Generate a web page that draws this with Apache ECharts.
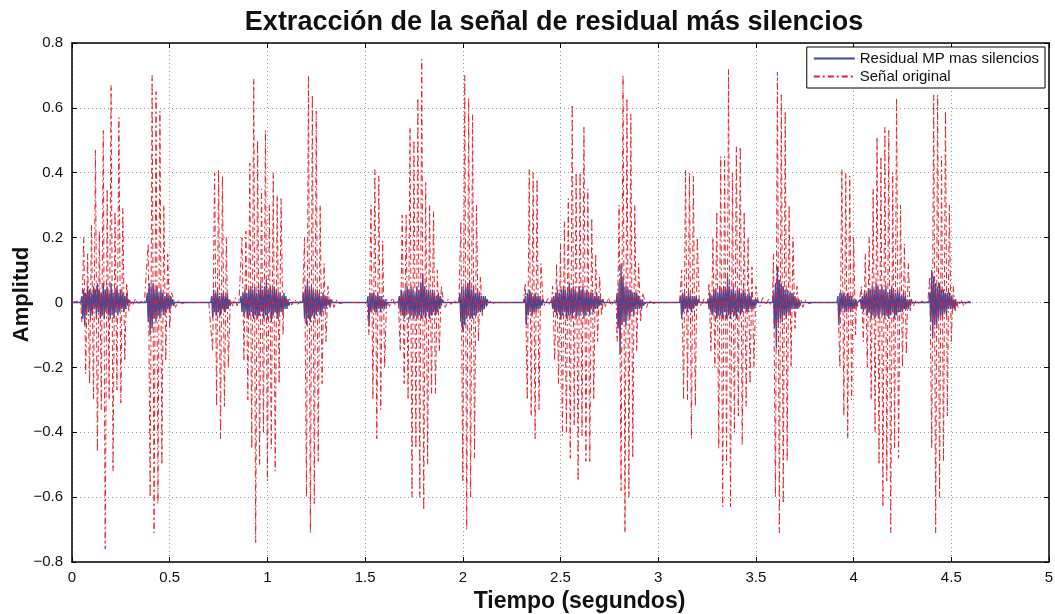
<!DOCTYPE html>
<html>
<head>
<meta charset="utf-8">
<script src="https://cdn.jsdelivr.net/npm/echarts@6/dist/echarts.min.js"></script>
<style>
  html, body { margin: 0; padding: 0; background: #fff; }
  #chart { width: 1055px; height: 614px; }
</style>
</head>
<body>
<div id="chart"></div>
<script>
// spacing of the hand-read values (seconds)
const origStep = 0.01;
const resStep = 0.005;

// Señal original: start time of each voiced burst, and the peaks
const origStarts = [0.05, 0.39, 0.72, 0.87, 1.19, 1.52, 1.68, 1.99, 2.32,
  2.46, 2.79, 3.12, 3.26, 3.59, 3.93, 4.04, 4.39];
const origBursts = [
  [-0.06,0.20,-0.22,0.15,-0.25,0.24,-0.30,0.47,-0.46,0.22,-0.33,0.53,-0.76,0.35,-0.30,0.67,-0.52,0.28,-0.27,0.57,-0.31,0.29,-0.18,0.06,-0.03],
  [0.18,-0.60,0.70,-0.71,0.65,-0.62,0.59,-0.50,0.30,-0.18,0.15,-0.08,0.03],
  [-0.15,0.40,-0.32,0.41,-0.42,0.39,-0.32,0.20,-0.20],
  [0.20,-0.18,0.22,-0.30,0.43,-0.45,0.69,-0.74,0.50,-0.50,0.35,-0.40,0.53,-0.55,0.30,-0.45,0.40,-0.52,0.33,-0.25,0.32,-0.10],
  [0.20,-0.60,0.70,-0.71,0.64,-0.62,0.59,-0.49,0.30,-0.25,0.12,-0.12,0.05,-0.02],
  [-0.10,0.30,-0.30,0.41,-0.42,0.39,-0.33,0.19,-0.20],
  [-0.15,0.27,-0.25,0.27,-0.30,0.54,-0.60,0.50,-0.45,0.63,-0.60,0.75,-0.64,0.37,-0.50,0.30,-0.28,0.28,-0.28,0.10,-0.15,0.05],
  [0.25,-0.55,0.70,-0.70,0.63,-0.60,0.58,-0.48,0.30,-0.12,0.08,-0.04],
  [0.06,-0.30,0.41,-0.35,0.40,-0.42,0.38,-0.33,0.12],
  [0.05,-0.18,0.12,-0.25,0.18,-0.41,0.25,-0.40,0.32,-0.48,0.61,-0.38,0.40,-0.55,0.40,-0.41,0.54,-0.49,0.35,-0.49,0.26,-0.30,0.15,-0.12,0.08,-0.04],
  [-0.12,0.30,-0.58,0.70,-0.71,0.63,-0.60,0.58,-0.48,0.30,-0.15,0.12,-0.06,0.03],
  [0.10,-0.30,0.41,-0.30,0.40,-0.42,0.39,-0.32,0.20],
  [0.06,-0.15,0.20,-0.20,0.28,-0.45,0.45,-0.63,0.45,-0.50,0.72,-0.63,0.40,-0.40,0.48,-0.35,0.48,-0.44,0.28,-0.32,0.20,-0.25,0.11,-0.20,0.05],
  [0.15,-0.60,0.71,-0.71,0.64,-0.62,0.59,-0.49,0.30,-0.20,0.20,-0.08,0.05,-0.02],
  [-0.20,0.41,-0.35,0.40,-0.42,0.39,-0.30,0.20,-0.10],
  [0.05,-0.12,0.15,-0.20,0.20,-0.30,0.35,-0.40,0.51,-0.50,0.45,-0.63,0.54,-0.55,0.53,-0.71,0.40,-0.45,0.63,-0.48,0.30,-0.20,0.18,-0.16,0.12,-0.03],
  [0.08,-0.45,0.64,-0.71,0.64,-0.60,0.45,-0.49,0.59,-0.35,0.30,-0.12,0.05,-0.03]
];
// low-level wiggles in the pauses, as [t, v]
const origQuiet = [[0,0],[0.03,0.004],[0.045,-0.004],
  [0.30,0.008],[0.31,-0.01],[0.325,0.012],[0.34,-0.006],[0.355,0.005],[0.37,-0.004],[0.38,0.002],
  [0.52,0.01],[0.53,-0.015],[0.545,0.006],[0.56,-0.004],[0.58,0],[0.70,0],[0.71,0.003],
  [0.81,0.01],[0.82,-0.012],[0.835,0.015],[0.845,-0.01],[0.855,0.008],
  [1.085,0.012],[1.095,-0.01],[1.11,0.015],[1.125,-0.008],[1.14,0.01],[1.155,-0.006],[1.17,0.005],[1.18,-0.003],
  [1.33,0.01],[1.34,-0.015],[1.355,0.008],[1.37,-0.004],[1.39,0],[1.51,0],
  [1.61,0.01],[1.625,-0.012],[1.64,0.015],[1.655,-0.008],[1.67,0.006],
  [1.90,0.01],[1.91,-0.015],[1.925,0.01],[1.94,-0.006],[1.955,0.008],[1.97,-0.004],[1.98,0.003],
  [2.11,0.01],[2.12,-0.015],[2.135,0.008],[2.15,-0.004],[2.17,0],[2.31,0],
  [2.41,0.008],[2.42,-0.01],[2.435,0.012],[2.445,-0.008],[2.455,0.005],
  [2.72,0.01],[2.73,-0.012],[2.745,0.015],[2.76,-0.01],[2.775,0.008],[2.785,-0.004],
  [2.93,0.01],[2.94,-0.015],[2.955,0.008],[2.97,-0.004],[2.99,0],[3.11,0],
  [3.21,0.008],[3.22,-0.012],[3.235,0.012],[3.245,-0.008],[3.255,0.004],
  [3.51,0.01],[3.52,-0.012],[3.535,0.015],[3.55,-0.008],[3.565,0.01],[3.575,-0.006],[3.585,0.003],
  [3.73,0.01],[3.74,-0.015],[3.755,0.008],[3.77,-0.004],[3.79,0],[3.92,0],
  [4.015,0.01],[4.02,-0.012],[4.03,0.006],
  [4.295,0.01],[4.305,-0.012],[4.32,0.008],[4.335,-0.006],[4.35,0.005],[4.365,-0.004],[4.38,0.003],
  [4.525,0.01],[4.535,-0.015],[4.55,0.008],[4.565,-0.012],[4.58,0.006],[4.60,0]];

// Residual MP mas silencios (exactly zero in the silences)
const resStarts = [0.050, 0.385, 0.715, 0.865, 1.185, 1.515, 1.675, 1.985, 2.320,
  2.455, 2.790, 3.115, 3.255, 3.590, 3.920, 4.035, 4.390];
const resBursts = [
  [0.02,-0.05,0.04,-0.07,0.03,-0.04,0.05,-0.03,0.04,-0.05,0.03,-0.04,0.05,-0.02,0.04,-0.05,0.06,-0.03,0.04,-0.05,0.03,-0.04,0.06,-0.05,0.04,-0.03,0.05,-0.04,0.03,-0.05,0.06,-0.04,0.03,-0.05,0.04,-0.03,0.05,-0.04,0.03,-0.03,0.04,-0.02,0.03,-0.03,0.02,-0.02,0.03,-0.01,0.01],
  [0.03,-0.06,0.06,-0.10,0.05,-0.08,0.06,-0.05,0.04,-0.06,0.05,-0.04,0.03,-0.05,0.04,-0.03,0.03,-0.04,0.02,-0.03,0.03,-0.02,0.02,-0.03,0.02,-0.01,0.01,-0.01],
  [0.02,-0.05,0.04,-0.03,0.03,-0.04,0.04,-0.03,0.02,-0.04,0.03,-0.02,0.03,-0.03,0.02,-0.02,0.03,-0.02,0.01,-0.01],
  [0.02,-0.03,0.03,-0.04,0.04,-0.03,0.03,-0.05,0.04,-0.04,0.05,-0.03,0.04,-0.05,0.05,-0.04,0.03,-0.05,0.04,-0.04,0.06,-0.03,0.04,-0.05,0.05,-0.04,0.07,-0.05,0.04,-0.03,0.05,-0.06,0.04,-0.04,0.05,-0.03,0.04,-0.05,0.03,-0.04,0.03,-0.03,0.02,-0.03,0.03,-0.02,0.02,-0.02,0.01,-0.01],
  [0.03,-0.05,0.05,-0.07,0.07,-0.05,0.04,-0.06,0.05,-0.04,0.04,-0.05,0.03,-0.04,0.04,-0.03,0.03,-0.04,0.02,-0.03,0.03,-0.02,0.02,-0.02,0.02,-0.01,0.01,-0.01,0.01,0],
  [0.02,-0.07,0.03,-0.03,0.03,-0.02,0.03,-0.03,0.02,-0.03,0.03,-0.02,0.02,-0.03,0.02,-0.02,0.01,-0.02,0.01,-0.01],
  [0.02,-0.03,0.04,-0.04,0.03,-0.05,0.04,-0.04,0.05,-0.03,0.04,-0.05,0.05,-0.04,0.04,-0.05,0.03,-0.04,0.05,-0.05,0.04,-0.04,0.06,-0.05,0.09,-0.04,0.05,-0.05,0.04,-0.03,0.04,-0.05,0.03,-0.04,0.04,-0.03,0.03,-0.04,0.02,-0.03,0.03,-0.02,0.02,-0.01,0.01],
  [0.03,-0.06,0.05,-0.09,0.04,-0.07,0.05,-0.05,0.06,-0.04,0.07,-0.05,0.04,-0.05,0.05,-0.04,0.03,-0.04,0.04,-0.03,0.03,-0.03,0.02,-0.03,0.02,-0.02,0.02,-0.01,0.01,0],
  [0.02,-0.07,0.03,-0.04,0.04,-0.03,0.03,-0.04,0.02,-0.03,0.03,-0.03,0.02,-0.02,0.02,-0.02,0.01,-0.01,0.01],
  [0.01,-0.02,0.02,-0.03,0.03,-0.04,0.04,-0.03,0.03,-0.05,0.04,-0.04,0.05,-0.03,0.04,-0.05,0.03,-0.04,0.06,-0.04,0.04,-0.05,0.05,-0.03,0.04,-0.05,0.03,-0.04,0.05,-0.04,0.04,-0.03,0.05,-0.05,0.03,-0.04,0.04,-0.03,0.03,-0.04,0.03,-0.02,0.03,-0.03,0.02,-0.02,0.03,-0.02,0.02,-0.01,0.01,-0.01,0.01,0],
  [0.03,-0.08,0.06,-0.16,0.12,-0.07,0.08,-0.06,0.05,-0.07,0.05,-0.04,0.04,-0.05,0.04,-0.03,0.03,-0.04,0.03,-0.02,0.03,-0.02,0.02,-0.02,0.01,-0.02,0.01,-0.01,0],
  [0.02,-0.05,0.03,-0.03,0.03,-0.02,0.02,-0.03,0.03,-0.02,0.02,-0.03,0.02,-0.02,0.02,-0.01,0.02,-0.01,0.01,0],
  [0.01,-0.02,0.03,-0.03,0.02,-0.04,0.04,-0.03,0.04,-0.05,0.03,-0.04,0.05,-0.04,0.04,-0.05,0.05,-0.03,0.04,-0.05,0.08,-0.04,0.05,-0.05,0.04,-0.03,0.05,-0.04,0.03,-0.05,0.04,-0.03,0.04,-0.04,0.03,-0.03,0.04,-0.02,0.03,-0.03,0.02,-0.03,0.03,-0.02,0.02,-0.02,0.01,-0.02,0.01,-0.01,0.01,0],
  [0.03,-0.08,0.06,-0.14,0.11,-0.06,0.07,-0.05,0.06,-0.06,0.05,-0.04,0.04,-0.05,0.04,-0.03,0.03,-0.04,0.03,-0.02,0.03,-0.02,0.02,-0.02,0.01,-0.02,0.01,-0.01,0],
  [0.02,-0.07,0.03,-0.03,0.03,-0.02,0.03,-0.03,0.02,-0.03,0.03,-0.02,0.02,-0.03,0.02,-0.02,0.01,-0.02,0.01,-0.01,0],
  [0.01,-0.02,0.02,-0.03,0.03,-0.02,0.03,-0.04,0.04,-0.03,0.04,-0.05,0.05,-0.04,0.04,-0.05,0.06,-0.04,0.05,-0.05,0.04,-0.03,0.05,-0.04,0.04,-0.05,0.05,-0.04,0.03,-0.05,0.04,-0.04,0.05,-0.03,0.04,-0.05,0.03,-0.04,0.04,-0.03,0.03,-0.03,0.02,-0.03,0.03,-0.02,0.02,-0.02,0.01,-0.02,0.01,-0.01,0.01,0],
  [0.03,-0.06,0.10,-0.11,0.08,-0.07,0.06,-0.08,0.05,-0.05,0.06,-0.04,0.04,-0.05,0.04,-0.03,0.03,-0.04,0.03,-0.02,0.03,-0.02,0.02,-0.02,0.01,-0.02,0.01,-0.01,0]
];
const resQuiet = [[0,0],[4.6,0]];

const xTicks = [0, 0.5, 1, 1.5, 2, 2.5, 3, 3.5, 4, 4.5, 5];

// pad: put the silence level (0) just before and after each burst
function buildSeries(starts, bursts, step, extra, pad) {
  let pts = []
  starts.forEach((t0, k) => {
    const vals = bursts[k]
    if (pad) {
      pts.push([+(t0 - step).toFixed(4), 0])
      pts.push([+(t0 + vals.length * step).toFixed(4), 0])
    }
    vals.forEach((v, i) => {
      pts.push([+(t0 + i * step).toFixed(4), v])
    })
  })
  extra.forEach((p) => { pts.push(p) })
  pts.sort((a, b) => a[0] - b[0])
  return pts
}

const yLabel = function(v) {
  if (Math.abs(v) < 1e-9) return '0'
  return (v < 0 ? '\u2212' : '') + Math.abs(v).toFixed(1)
}

const font = 'Liberation Sans, Arial, Helvetica, sans-serif'
const gridLine = { show: true, lineStyle: { color: '#9a9a9a', type: [1, 3], width: 1 } }
const frame = { show: true, onZero: false, lineStyle: { color: '#000', width: 1.5 } }
const tickIn = { show: true, inside: true, length: 5, lineStyle: { color: '#000', width: 1 } }

const chart = echarts.init(document.getElementById('chart'), null, { renderer: 'canvas' })

chart.setOption({
  animation: false,
  backgroundColor: '#fff',
  title: {
    text: 'Extracción de la señal de residual más silencios',
    left: 549,
    top: 4,
    textAlign: 'center',
    textStyle: { fontFamily: font, fontWeight: 'bold', fontSize: 27, color: '#111' }
  },
  legend: {
    orient: 'vertical',
    right: 10,
    top: 47,
    padding: [4, 6, 4, 6],
    itemGap: 3,
    itemWidth: 41,
    itemHeight: 12,
    backgroundColor: '#fff',
    borderColor: '#000',
    borderWidth: 1,
    borderRadius: 0,
    itemStyle: { opacity: 0 },
    textStyle: { fontFamily: font, fontSize: 15, color: '#111', padding: [0, 0, 0, 0] },
    data: ['Residual MP mas silencios', 'Señal original']
  },
  grid: { left: 72, right: 6, top: 43, bottom: 52, containLabel: false, outerBoundsMode: 'none' },
  xAxis: [
    {
      type: 'value', min: 0, max: 5, interval: 0.5, position: 'bottom',
      axisLine: frame, axisTick: tickIn, splitLine: gridLine,
      axisLabel: { color: '#111', fontFamily: font, fontSize: 15, margin: 8,
        formatter: (v) => String(xTicks[Math.round(v * 2)]) },
      name: 'Tiempo (segundos)', nameLocation: 'middle', nameGap: 28,
      nameTextStyle: { fontFamily: font, fontWeight: 'bold', fontSize: 23, color: '#111', padding: [0, 0, 0, 38] }
    },
    {
      type: 'value', min: 0, max: 5, interval: 0.5, position: 'top',
      axisLine: frame, axisTick: tickIn, splitLine: { show: false }, axisLabel: { show: false }
    }
  ],
  yAxis: [
    {
      type: 'value', min: -0.8, max: 0.8, interval: 0.2, position: 'left',
      axisLine: frame, axisTick: tickIn, splitLine: gridLine,
      axisLabel: { color: '#111', fontFamily: font, fontSize: 15, margin: 9, formatter: yLabel },
      name: 'Amplitud', nameLocation: 'middle', nameGap: 39, nameRotate: 90, nameMoveOverlap: false,
      nameTextStyle: { fontFamily: font, fontWeight: 'bold', fontSize: 22, color: '#111', padding: [0, 0, 0, 16] }
    },
    {
      type: 'value', min: -0.8, max: 0.8, interval: 0.2, position: 'right',
      axisLine: frame, axisTick: tickIn, splitLine: { show: false }, axisLabel: { show: false }
    }
  ],
  series: [
    {
      name: 'Residual MP mas silencios',
      type: 'line',
      data: buildSeries(resStarts, resBursts, resStep, resQuiet, true),
      showSymbol: false,
      symbol: 'none',
      color: '#3a4a9e',
      lineStyle: { color: '#3a4a9e', width: 1.3 },
      z: 2
    },
    {
      name: 'Señal original',
      type: 'line',
      data: buildSeries(origStarts, origBursts, origStep, origQuiet, false),
      showSymbol: false,
      symbol: 'none',
      color: '#e8212b',
      lineStyle: { color: '#e8212b', width: 1, type: [6, 3, 2, 3] },
      z: 3
    }
  ]
})
</script>
</body>
</html>
